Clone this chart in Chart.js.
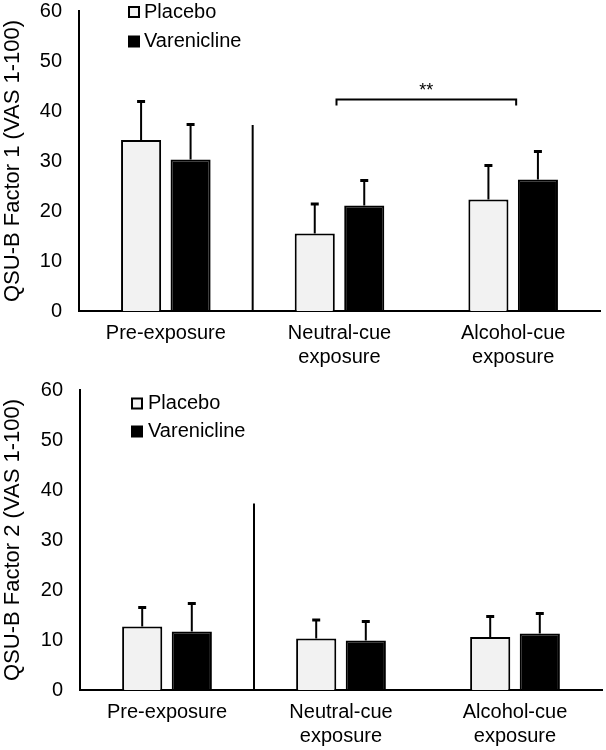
<!DOCTYPE html>
<html><head><meta charset="utf-8">
<script src="https://cdn.jsdelivr.net/npm/chart.js@4.4.1/dist/chart.umd.min.js"></script>
<style>
html,body{margin:0;padding:0;background:#fff;}
#wrap{position:relative;width:606px;height:750px;overflow:hidden;}
canvas{position:absolute;left:0;}
</style></head><body>
<div id="wrap">
<canvas id="c1" width="606" height="379" style="top:0"></canvas>
<canvas id="c2" width="606" height="371" style="top:379px"></canvas>
</div>
<script>
// ---- data ----
const categories = ['Pre-exposure', ['Neutral-cue', 'exposure'], ['Alcohol-cue', 'exposure']];
const seriesNames = ['Placebo', 'Varenicline'];
const yTickMin = 0, yTickMax = 60, yTickStep = 10;

const factor1Placebo = [34.2, 15.5, 22.3];
const factor1PlaceboErr = [7.7, 5.9, 6.8];
const factor1Varenicline = [30.3, 21.1, 26.3];
const factor1VareniclineErr = [7.0, 5.0, 5.6];

const factor2Placebo = [12.7, 10.3, 10.6];
const factor2PlaceboErr = [3.8, 3.7, 4.1];
const factor2Varenicline = [11.7, 9.9, 11.3];
const factor2VareniclineErr = [5.6, 3.8, 4.0];

const dividerTop = [37.2, 37.3];          // value where the separator line ends
const sigBracket = { from: 1, to: 2, value: 42.3, label: '**' };

// ---- styling ----
const FONT = 'Arial, "Liberation Sans", sans-serif';
const placeboFill = '#f2f2f2';
const vareniclineFill = '#000000';

const extras = {
  id: 'extras',
  afterDatasetsDraw(chart, args, opts) {
    const ctx = chart.ctx, xs = chart.scales.x, ys = chart.scales.y;
    ctx.save();
    ctx.strokeStyle = '#000';
    ctx.lineWidth = 2;
    // error bars (upper only)
    chart.data.datasets.forEach((ds, di) => {
      const meta = chart.getDatasetMeta(di);
      meta.data.forEach((bar, i) => {
        const top = ys.getPixelForValue(ds.data[i]);
        const hi = ys.getPixelForValue(ds.data[i] + ds.errors[i]);
        ctx.beginPath();
        ctx.moveTo(bar.x, top);
        ctx.lineTo(bar.x, hi);
        ctx.stroke();
        ctx.lineWidth = 3;
        ctx.beginPath();
        ctx.moveTo(bar.x - 4, hi);
        ctx.lineTo(bar.x + 4, hi);
        ctx.stroke();
        ctx.lineWidth = 2;
      });
    });
    // separator line between pre-exposure and exposures
    const dx = (xs.getPixelForValue(0) + xs.getPixelForValue(1)) / 2;
    ctx.beginPath();
    ctx.moveTo(dx, ys.getPixelForValue(0));
    ctx.lineTo(dx, ys.getPixelForValue(opts.divider));
    ctx.stroke();
    // significance bracket
    if (opts.bracket) {
      const b = opts.bracket;
      const x1 = xs.getPixelForValue(b.from) - 3;
      const x2 = xs.getPixelForValue(b.to) + 3;
      const by = ys.getPixelForValue(b.value);
      ctx.beginPath();
      ctx.moveTo(x1, by + 6);
      ctx.lineTo(x1, by);
      ctx.lineTo(x2, by);
      ctx.lineTo(x2, by + 6);
      ctx.stroke();
      ctx.fillStyle = '#000';
      ctx.font = '18px ' + FONT;
      ctx.textAlign = 'center';
      ctx.textBaseline = 'middle';
      ctx.fillText(b.label, (x1 + x2) / 2, by - 8);
    }
    // legend
    const lg = opts.legend;
    chart.data.datasets.forEach((ds, di) => {
      const cy = chart.chartArea.top + lg.y[di];
      const sx = chart.chartArea.left + lg.x;
      ctx.fillStyle = ds.backgroundColor;
      ctx.fillRect(sx, cy - 5, 10, 10);
      ctx.lineWidth = 2;
      ctx.strokeStyle = '#000';
      ctx.strokeRect(sx, cy - 5, 10, 10);
      ctx.fillStyle = '#000';
      ctx.font = '20px ' + FONT;
      ctx.textAlign = 'left';
      ctx.textBaseline = 'middle';
      ctx.fillText(ds.label, sx + lg.gap, cy);
    });
    ctx.restore();
  }
};

function makeChart(id, title, p, pe, v, ve, cfg) {
  return new Chart(document.getElementById(id), {
    type: 'bar',
    data: {
      labels: categories,
      datasets: [
        { label: seriesNames[0], data: p, errors: pe, backgroundColor: placeboFill, borderColor: '#000', borderWidth: 2, borderSkipped: 'start' },
        { label: seriesNames[1], data: v, errors: ve, backgroundColor: vareniclineFill, borderColor: '#000', borderWidth: 2, borderSkipped: 'start' }
      ]
    },
    options: {
      responsive: false,
      animation: false,
      categoryPercentage: 0.57,
      barPercentage: 0.81,
      layout: { padding: { top: 11, right: cfg.padRight, left: 0, bottom: 0 } },
      plugins: {
        legend: { display: false },
        tooltip: { enabled: false },
        extras: { divider: cfg.divider, bracket: cfg.bracket, legend: cfg.legend }
      },
      scales: {
        x: {
          grid: { display: false, drawTicks: false },
          border: { display: true, color: '#000', width: 2 },
          ticks: { color: '#000', font: { size: 20, family: FONT }, padding: 10, maxRotation: 0, autoSkip: false },
          afterFit(s) { s.height = cfg.xHeight; s.paddingLeft = 0; s.paddingRight = 0; }
        },
        y: {
          min: yTickMin, max: yTickMax,
          grid: { display: false, drawTicks: false },
          border: { display: true, color: '#000', width: 2 },
          ticks: { stepSize: yTickStep, color: '#000', font: { size: 20, family: FONT }, padding: 17 },
          title: { display: true, text: title, color: '#000', font: { size: 22, family: FONT }, padding: { top: 0, bottom: 0 } },
          afterFit(s) { s.width = cfg.yWidth; s.paddingTop = 0; s.paddingBottom = 0; }
        }
      }
    },
    plugins: [extras]
  });
}

makeChart('c1', 'QSU-B Factor 1 (VAS 1-100)', factor1Placebo, factor1PlaceboErr, factor1Varenicline, factor1VareniclineErr,
  { padRight: 6, xHeight: 68, yWidth: 79, divider: dividerTop[0], bracket: sigBracket,
    legend: { x: 50, gap: 15, y: [1, 30.5] } });
makeChart('c2', 'QSU-B Factor 2 (VAS 1-100)', factor2Placebo, factor2PlaceboErr, factor2Varenicline, factor2VareniclineErr,
  { padRight: 4, xHeight: 60, yWidth: 80, divider: dividerTop[1], bracket: null,
    legend: { x: 52, gap: 16, y: [13.5, 41.5] } });
</script>
</body></html>
